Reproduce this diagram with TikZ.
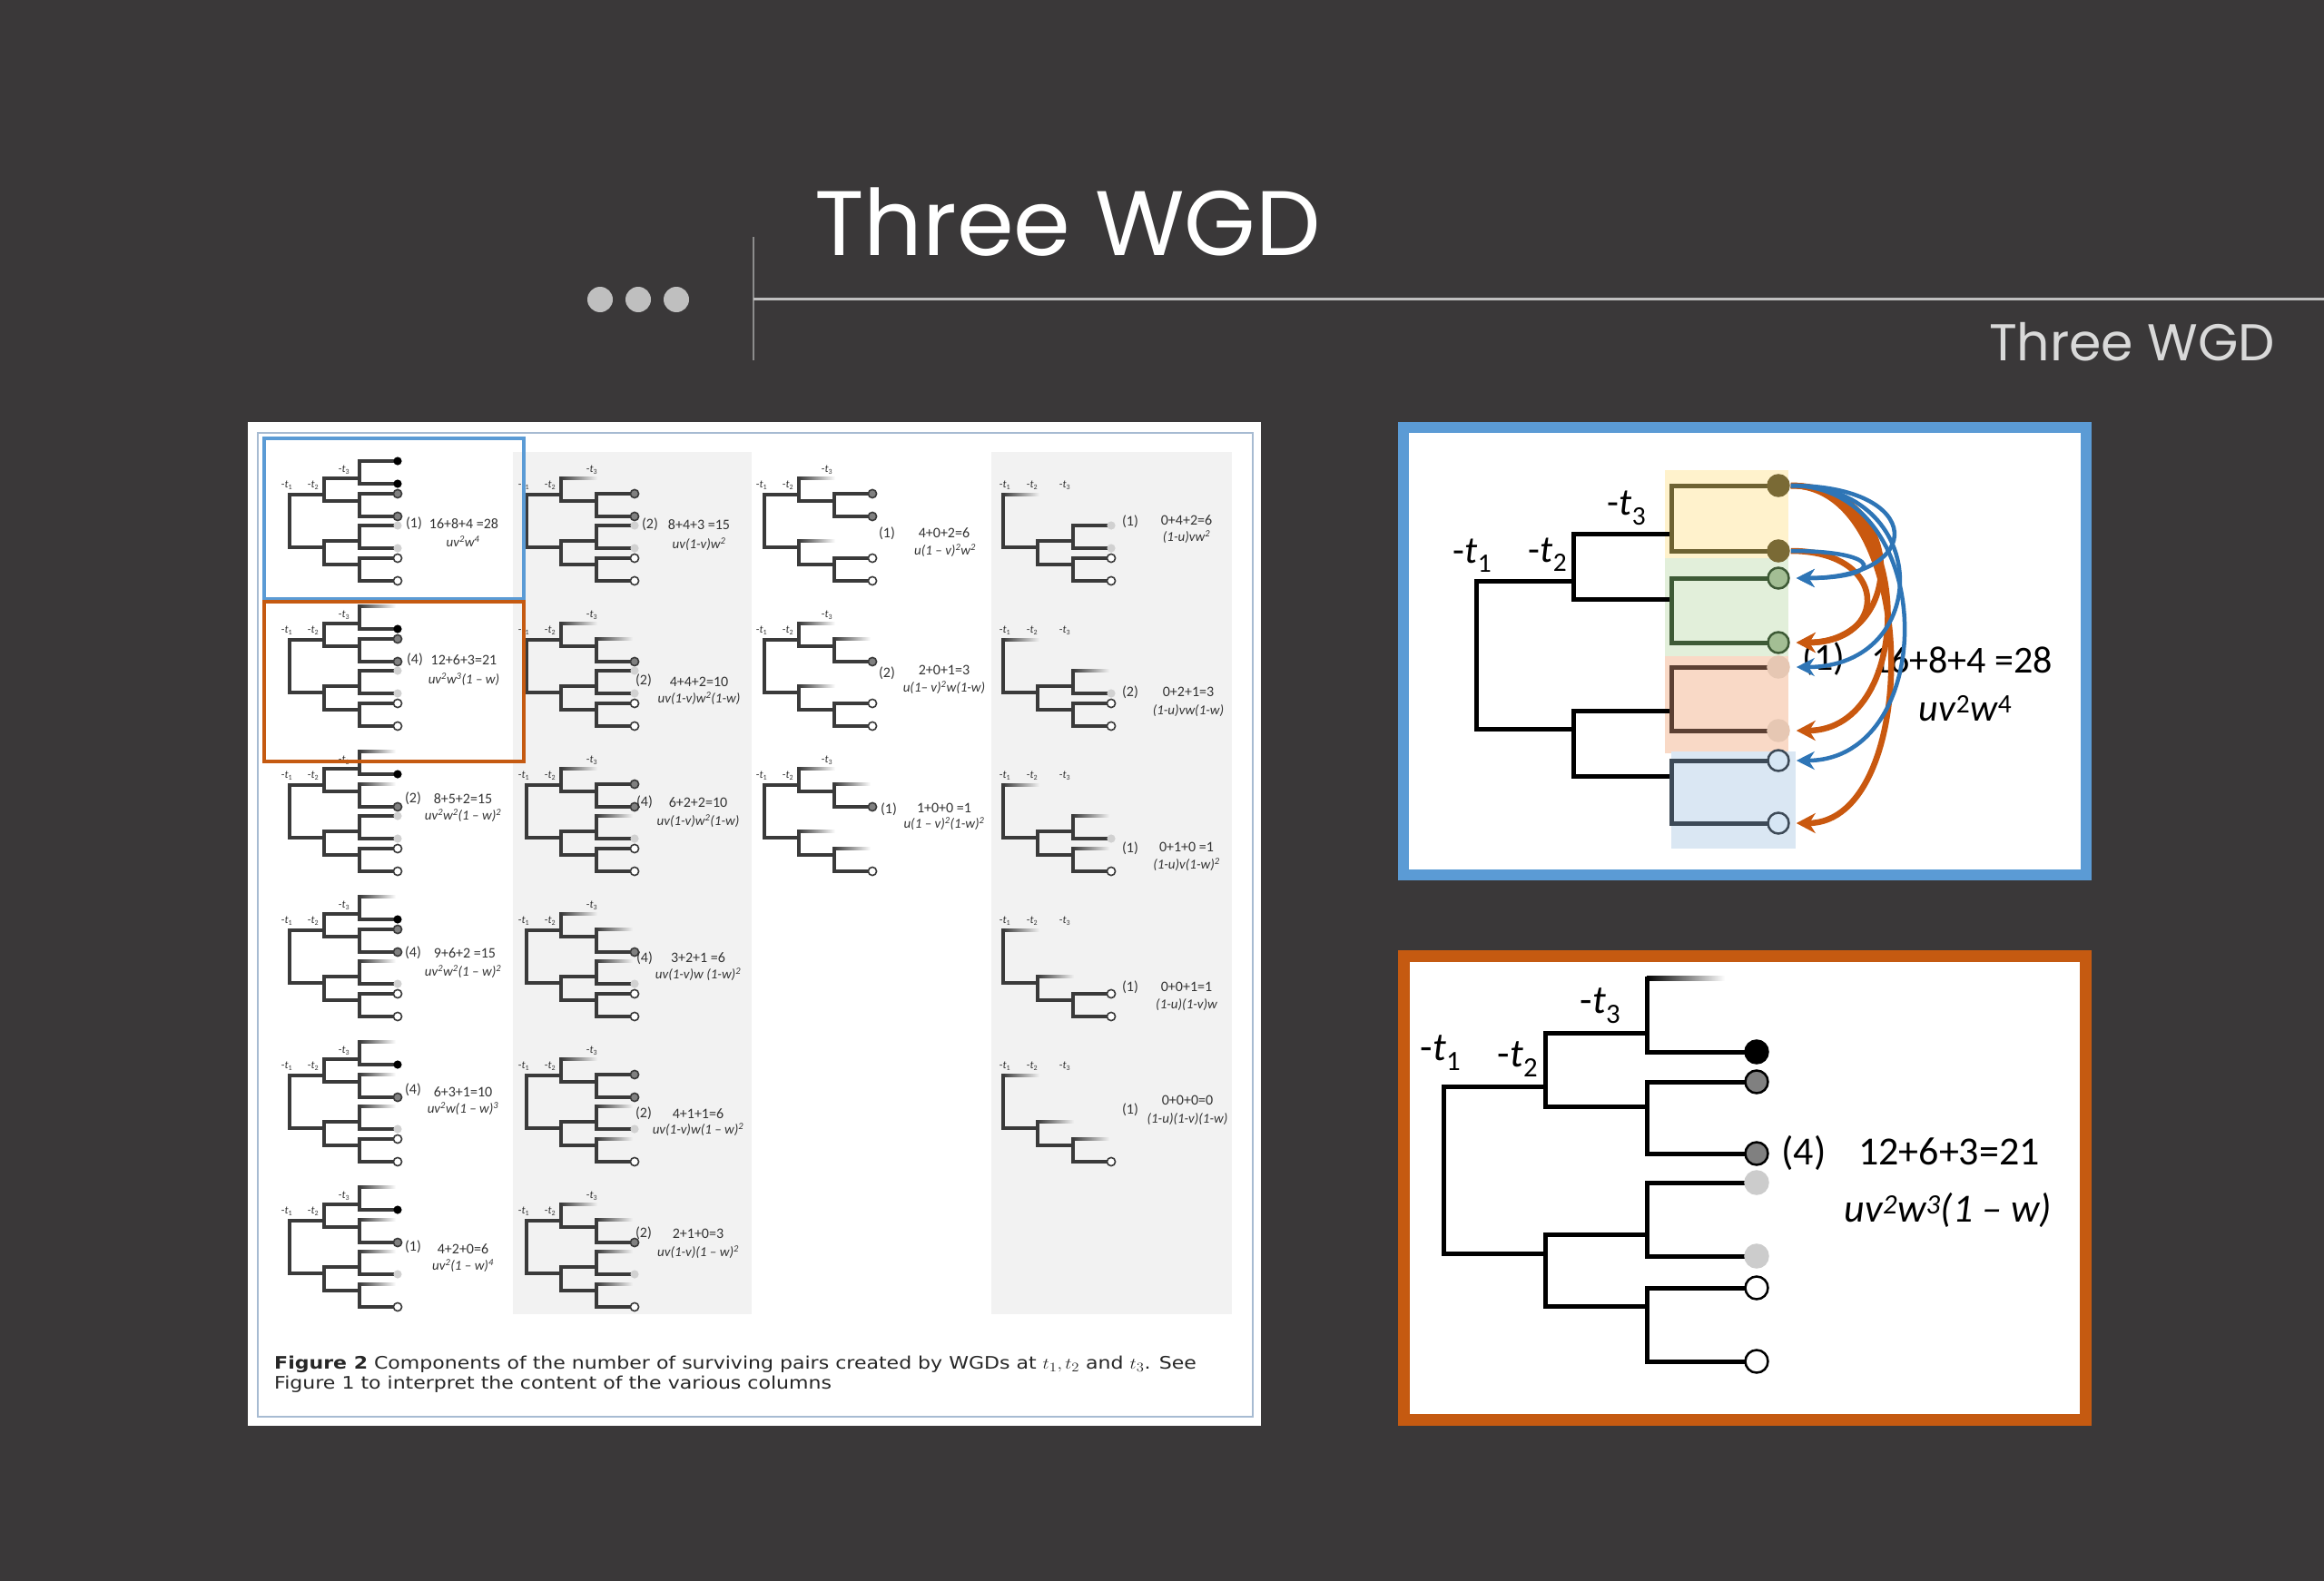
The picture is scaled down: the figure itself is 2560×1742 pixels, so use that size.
\documentclass[tikz,border=0pt]{standalone}
\usepackage{fontspec}
\setmainfont{Carlito}
\newfontfamily\titlefont{Poppins}
\newfontfamily\capfont{DejaVu Sans}
\usetikzlibrary{arrows.meta}
\definecolor{bgdark}{HTML}{3A3839}
\definecolor{dotgrey}{HTML}{BFBFBF}
\definecolor{vlinec}{HTML}{8C8C8C}
\definecolor{hlinec}{HTML}{BFBFBF}
\definecolor{subgrey}{HTML}{D9D9D9}
\definecolor{panelgrey}{HTML}{F2F2F2}
\definecolor{frameblue}{HTML}{A7BBD2}
\definecolor{hiblue}{HTML}{5B9BD5}
\definecolor{hiorange}{HTML}{C55A11}
\definecolor{tline}{HTML}{3A3A3A}
\definecolor{tgrey}{HTML}{333333}
\definecolor{arrorange}{HTML}{C9580F}
\definecolor{arrblue}{HTML}{2E75B6}
\definecolor{cyel}{HTML}{FFF2CC}
\definecolor{cgrn}{HTML}{E2EFDA}
\definecolor{cpch}{HTML}{F9D9C6}
\definecolor{cblu}{HTML}{DAE7F3}
\definecolor{lyel}{HTML}{6E6232}
\definecolor{lgrn}{HTML}{3E5A36}
\definecolor{lpch}{HTML}{5C4033}
\definecolor{lblu}{HTML}{3D4A57}
\definecolor{fyel}{HTML}{7A6A35}
\definecolor{fgrn}{HTML}{A3BE94}
\definecolor{fpch}{HTML}{E6C7B3}
\definecolor{fblu}{HTML}{D6E6F4}
\def\TBG{white}
\def\codeF{F}
\def\codeX{X}
\newif\ifupperpart
\newcommand\tfade[3]{\shade[left color=tline,right color=\TBG] (#1,#2-1.6) rectangle (#1+#3,#2+1.6);}
\newcommand\tleaf[2]{\def\lcode{#2}\ifx\lcode\codeF\tfade{77}{#1}{40}\else\draw[thinbr] (77,#1) -- (115,#1);\path[leaf#2] (119,#1) circle[radius=4.6pt];\fi}
\newcommand\tsub[4]{\def\scode{#3}\ifx\scode\codeX\tfade{38}{#1}{40}\else\draw[thinbr] (38,#1) -- (77,#1) (77,#2) -- (77,#2+25);\tleaf{#2}{#3}\tleaf{#2+25}{#4}\fi}
\newcommand\ttree[8]{%
 \upperparttrue
 \def\ucodeA{#1}\def\ucodeC{#3}%
 \ifx\ucodeA\codeX\ifx\ucodeC\codeX\upperpartfalse\fi\fi
 \ifupperpart
   \draw[thinbr] (0,37) -- (38,37) (38,19) -- (38,44);
   \tsub{19}{0}{#1}{#2}\tsub{44}{36}{#3}{#4}%
 \else
   \tfade{0}{37}{40}%
 \fi
 \draw[thinbr] (0,37) -- (0,95) -- (38,95) (38,88) -- (38,114);
 \tsub{88}{71}{#5}{#6}\tsub{114}{107}{#7}{#8}%
}
\newcommand\tlabA[2]{%
 \node[tsty] (#1-a) at (-3,27) {-\textit{t}\textsubscript{1}};
 \node[tsty] (#1-b) at (26,27) {-\textit{t}\textsubscript{2}};
 \node[tsty] (#1-c) at (#2,10) {-\textit{t}\textsubscript{3}};}
\newcommand\tlabB[1]{%
 \node[tsty] (#1-a) at (2,27) {-\textit{t}\textsubscript{1}};
 \node[tsty] (#1-b) at (32,27) {-\textit{t}\textsubscript{2}};
 \node[tsty] (#1-c) at (68,27) {-\textit{t}\textsubscript{3}};}
\newcommand\tlab[7]{%
 \node[tsmall] (#1n) at (#2) {(#3)};
 \node[tsmall] (#1f) at (#4) {#5};
 \node[tsmall,font=\fontsize{15}{18}\selectfont\itshape] (#1g) at (#6) {#7};}
\newcommand\tit{\textit{t}}
\begin{document}
\begin{tikzpicture}[x=1pt,y=-1pt,
  thinbr/.style={draw=tline,line width=3.1pt,line cap=rect},
  leafB/.style={fill=black},
  leafG/.style={fill=black!50,draw=tline,line width=1.6pt},
  leafL/.style={fill=black!18},
  leafW/.style={fill=white,draw=tline,line width=1.6pt},
  tsty/.style={font=\fontsize{12}{14}\selectfont,text=tgrey,inner sep=0pt},
  tsmall/.style={font=\fontsize{16}{19}\selectfont,text=tgrey,inner sep=0pt},
  bigbr/.style={line width=5pt,line cap=rect},
  bleaf/.style={circle,minimum size=23pt,inner sep=0pt,line width=2.5pt},
  bigtxt/.style={font=\fontsize{42}{50}\selectfont,inner sep=0pt},
  oarr/.style={draw=arrorange,line width=6.5pt,-{Stealth[length=21pt,width=22pt]},shorten >=7pt,shorten <=1pt},
  barr/.style={draw=arrblue,line width=4.5pt,-{Stealth[length=20pt,width=20pt]},shorten >=7pt,shorten <=1pt}]
\useasboundingbox (0,0) rectangle (2560,1742);
\fill[bgdark] (0,0) rectangle (2560,1742);
% header
\fill[dotgrey] (661,330) circle[radius=14pt] (703,330) circle[radius=14pt] (745,330) circle[radius=14pt];
\draw[vlinec,line width=2pt] (830,261) -- (830,397);
\draw[hlinec,line width=3pt] (830,329) -- (2560,329);
\node[anchor=base west,text=white,font=\titlefont\fontsize{101}{106}\selectfont,inner sep=0pt] (title) at (897,281) {Three WGD};
\node[anchor=base east,text=subgrey,font=\titlefont\fontsize{57}{63}\selectfont,inner sep=0pt] (subtitle) at (2506,397) {Three WGD};
% left panel
\fill[white] (273,465) rectangle (1389,1571);
\draw[frameblue,line width=2.5pt] (284,477) rectangle (1380,1561);
\fill[panelgrey] (565,498) rectangle (828,1448);
\fill[panelgrey] (1092,498) rectangle (1357,1448);
% column 1
\def\TBG{white}
\begin{scope}[shift={(319,508)}]\ttree{B}{B}{G}{G}{L}{L}{W}{W}\tlabA{c11}{60}\end{scope}
\begin{scope}[shift={(319,668)}]\ttree{F}{B}{G}{G}{L}{L}{W}{W}\tlabA{c12}{60}\end{scope}
\begin{scope}[shift={(319,828)}]\ttree{F}{B}{F}{G}{L}{L}{W}{W}\tlabA{c13}{60}\end{scope}
\begin{scope}[shift={(319,988)}]\ttree{F}{B}{G}{G}{F}{L}{W}{W}\tlabA{c14}{60}\end{scope}
\begin{scope}[shift={(319,1148)}]\ttree{F}{B}{F}{G}{F}{L}{W}{W}\tlabA{c15}{60}\end{scope}
\begin{scope}[shift={(319,1308)}]\ttree{F}{B}{F}{G}{F}{L}{F}{W}\tlabA{c16}{60}\end{scope}
% column 2
\def\TBG{panelgrey}
\begin{scope}[shift={(580,508)}]\ttree{X}{X}{G}{G}{L}{L}{W}{W}\tlabA{c21}{72}\end{scope}
\begin{scope}[shift={(580,668)}]\ttree{X}{X}{F}{G}{L}{L}{W}{W}\tlabA{c22}{72}\end{scope}
\begin{scope}[shift={(580,828)}]\ttree{X}{X}{G}{G}{F}{L}{W}{W}\tlabA{c23}{72}\end{scope}
\begin{scope}[shift={(580,988)}]\ttree{X}{X}{F}{G}{F}{L}{W}{W}\tlabA{c24}{72}\end{scope}
\begin{scope}[shift={(580,1148)}]\ttree{X}{X}{G}{G}{F}{L}{F}{W}\tlabA{c25}{72}\end{scope}
\begin{scope}[shift={(580,1308)}]\ttree{X}{X}{F}{G}{F}{L}{F}{W}\tlabA{c26}{72}\end{scope}
% column 3
\def\TBG{white}
\begin{scope}[shift={(842,508)}]\ttree{X}{X}{G}{G}{X}{X}{W}{W}\tlabA{c31}{69}\end{scope}
\begin{scope}[shift={(842,668)}]\ttree{X}{X}{F}{G}{X}{X}{W}{W}\tlabA{c32}{69}\end{scope}
\begin{scope}[shift={(842,828)}]\ttree{X}{X}{F}{G}{X}{X}{F}{W}\tlabA{c33}{69}\end{scope}
% column 4
\def\TBG{panelgrey}
\begin{scope}[shift={(1105,508)}]\ttree{X}{X}{X}{X}{L}{L}{W}{W}\tlabB{c41}\end{scope}
\begin{scope}[shift={(1105,668)}]\ttree{X}{X}{X}{X}{F}{L}{W}{W}\tlabB{c42}\end{scope}
\begin{scope}[shift={(1105,828)}]\ttree{X}{X}{X}{X}{F}{L}{F}{W}\tlabB{c43}\end{scope}
\begin{scope}[shift={(1105,988)}]\ttree{X}{X}{X}{X}{X}{X}{W}{W}\tlabB{c44}\end{scope}
\begin{scope}[shift={(1105,1148)}]\ttree{X}{X}{X}{X}{X}{X}{F}{W}\tlabB{c45}\end{scope}
% thumbnail labels
\tlab{l11}{456,577}{1}{511,577}{16+8+4 =28}{510,597}{uv\textsuperscript{2}w\textsuperscript{4}}
\tlab{l12}{457,727}{4}{511,727}{12+6+3=21}{511,749}{uv\textsuperscript{2}w\textsuperscript{3}(1 – w)}
\tlab{l13}{455,880}{2}{510,880}{8+5+2=15}{510,899}{uv\textsuperscript{2}w\textsuperscript{2}(1 – w)\textsuperscript{2}}
\tlab{l14}{455,1050}{4}{512,1050}{9+6+2 =15}{510,1071}{uv\textsuperscript{2}w\textsuperscript{2}(1 – w)\textsuperscript{2}}
\tlab{l15}{455,1201}{4}{510,1203}{6+3+1=10}{510,1222}{uv\textsuperscript{2}w(1 – w)\textsuperscript{3}}
\tlab{l16}{455,1374}{1}{510,1376}{4+2+0=6}{510,1395}{uv\textsuperscript{2}(1 – w)\textsuperscript{4}}
\tlab{l21}{716,578}{2}{770,578}{8+4+3 =15}{770,600}{uv(1-v)w\textsuperscript{2}}
\tlab{l22}{709,750}{2}{770,751}{4+4+2=10}{770,770}{uv(1-v)w\textsuperscript{2}(1-w)}
\tlab{l23}{710,884}{4}{769,884}{6+2+2=10}{769,905}{uv(1-v)w\textsuperscript{2}(1-w)}
\tlab{l24}{710,1056}{4}{769,1055}{3+2+1 =6}{769,1074}{uv(1-v)w (1-w)\textsuperscript{2}}
\tlab{l25}{709,1227}{2}{769,1227}{4+1+1=6}{769,1245}{uv(1-v)w(1 – w)\textsuperscript{2}}
\tlab{l26}{709,1359}{2}{769,1359}{2+1+0=3}{769,1380}{uv(1-v)(1 – w)\textsuperscript{2}}
\tlab{l31}{977,588}{1}{1040,587}{4+0+2=6}{1041,607}{u(1 – v)\textsuperscript{2}w\textsuperscript{2}}
\tlab{l32}{977,742}{2}{1040,738}{2+0+1=3}{1040,758}{u(1– v)\textsuperscript{2}w(1-w)}
\tlab{l33}{979,892}{1}{1040,890}{1+0+0 =1}{1040,908}{u(1 – v)\textsuperscript{2}(1-w)\textsuperscript{2}}
\tlab{l41}{1245,575}{1}{1307,573}{0+4+2=6}{1307,592}{(1-u)vw\textsuperscript{2}}
\tlab{l42}{1245,763}{2}{1309,762}{0+2+1=3}{1309,783}{(1-u)vw(1-w)}
\tlab{l43}{1245,935}{1}{1307,933}{0+1+0 =1}{1307,953}{(1-u)v(1-w)\textsuperscript{2}}
\tlab{l44}{1245,1088}{1}{1307,1087}{0+0+1=1}{1307,1107}{(1-u)(1-v)w}
\tlab{l45}{1245,1223}{1}{1308,1212}{0+0+0=0}{1308,1233}{(1-u)(1-v)(1-w)}
% highlight boxes
\draw[hiblue,line width=4pt] (291,483) rectangle (577,660);
\draw[hiorange,line width=4pt] (291,663) rectangle (577,839);
% caption
\begin{scope}
\clip (273,1470) rectangle (1389,1534);
\node[anchor=base west,font=\capfont\fontsize{19}{19}\selectfont,text=black!85,inner sep=0pt] (cap1) at (302,1508) {\scalebox{1.16}[1]{\textbf{Figure 2} Components of the number of surviving pairs created by WGDs at $t_1,t_2$ and $t_3$. See}};
\node[anchor=base west,font=\capfont\fontsize{19}{19}\selectfont,text=black!85,inner sep=0pt] (cap2) at (302,1530) {\scalebox{1.16}[1]{Figure 1 to interpret the content of the various columns}};
\end{scope}
% blue panel
\draw[hiblue,line width=12pt,fill=white] (1546,471) rectangle (2298,964);
\fill[cyel] (1834,518) rectangle (1970,615);
\fill[cgrn] (1834,615) rectangle (1970,723);
\fill[cpch] (1834,723) rectangle (1970,830);
\fill[cblu] (1841,828) rectangle (1978,935);
\draw[bigbr] (1733,640) -- (1626,640) -- (1626,803) -- (1733,803);
\draw[bigbr] (1841,588) -- (1733,588) -- (1733,660) -- (1841,660);
\draw[bigbr] (1841,783) -- (1733,783) -- (1733,855) -- (1841,855);
\draw[bigbr,draw=lyel] (1948,535) -- (1841,535) -- (1841,607) -- (1948,607);
\draw[bigbr,draw=lgrn] (1948,637) -- (1841,637) -- (1841,708) -- (1948,708);
\draw[bigbr,draw=lpch] (1948,735) -- (1841,735) -- (1841,805) -- (1948,805);
\draw[bigbr,draw=lblu] (1948,838) -- (1841,838) -- (1841,907) -- (1948,907);
\node[bleaf,fill=fyel,draw=fyel] (ya) at (1959,535) {};
\node[bleaf,fill=fyel,draw=fyel] (yb) at (1959,607) {};
\node[bleaf,fill=fgrn,draw=lgrn] (ga) at (1959,637) {};
\node[bleaf,fill=fgrn,draw=lgrn] (gb) at (1959,708) {};
\node[bleaf,fill=fpch,draw=fpch] (pa) at (1959,735) {};
\node[bleaf,fill=fpch,draw=fpch] (pb) at (1959,805) {};
\node[bleaf,fill=fblu,draw=lblu] (ba) at (1959,838) {};
\node[bleaf,fill=fblu,draw=lblu] (bb) at (1959,907) {};
\node[bigtxt] (bt1) at (1622,612) {-\tit\textsubscript{1}};
\node[bigtxt] (bt2) at (1705,611) {-\tit\textsubscript{2}};
\node[bigtxt] (bt3) at (1792,560) {-\tit\textsubscript{3}};
\node[bigtxt] (bn) at (2009,726) {(1)};
\node[bigtxt] (bf1) at (2161,727) {16+8+4 =28};
\node[bigtxt] (bf2) at (2165,781) {\textit{uv}\textsuperscript{2}\textit{w}\textsuperscript{4}};
\draw[oarr] (ya.east) .. controls +(130,0) and +(130,0) .. (gb.east);
\draw[oarr] (ya.east) .. controls +(140,0) and +(140,0) .. (pb.east);
\draw[oarr] (ya.east) .. controls +(145,0) and +(145,0) .. (bb.east);
\draw[oarr] (yb.east) .. controls +(110,0) and +(110,0) .. (gb.east);
\draw[barr] (ya.east) .. controls +(150,0) and +(150,0) .. (ga.east);
\draw[barr] (ya.east) .. controls +(158,0) and +(158,0) .. (pa.east);
\draw[barr] (ya.east) .. controls +(165,0) and +(165,0) .. (ba.east);
\draw[barr] (yb.east) .. controls +(105,0) and +(105,0) .. (ga.east);
% orange panel
\draw[hiorange,line width=13pt,fill=white] (1546.5,1053.5) rectangle (2297.5,1564.5);
\draw[bigbr] (1702,1197) -- (1590,1197) -- (1590,1381) -- (1702,1381);
\draw[bigbr] (1814,1138) -- (1702,1138) -- (1702,1219) -- (1814,1219);
\draw[bigbr] (1814,1360) -- (1702,1360) -- (1702,1439) -- (1814,1439);
\shade[left color=black,right color=white] (1814,1075.5) rectangle (1900,1080.5);
\draw[bigbr] (1814,1078) -- (1814,1159) -- (1923,1159);
\draw[bigbr] (1923,1192) -- (1814,1192) -- (1814,1271) -- (1923,1271);
\draw[bigbr] (1923,1303) -- (1814,1303) -- (1814,1384) -- (1923,1384);
\draw[bigbr] (1923,1419) -- (1814,1419) -- (1814,1500) -- (1923,1500);
\node[bleaf,minimum size=25pt,fill=black,draw=black] (oa) at (1935,1159) {};
\node[bleaf,minimum size=25pt,fill=black!50,draw=black] (ob) at (1935,1192) {};
\node[bleaf,minimum size=25pt,fill=black!50,draw=black] (oc) at (1935,1271) {};
\node[bleaf,minimum size=25pt,fill=black!20,draw=black!20] (od) at (1935,1303) {};
\node[bleaf,minimum size=25pt,fill=black!20,draw=black!20] (oe) at (1935,1384) {};
\node[bleaf,minimum size=25pt,fill=white,draw=black] (of) at (1935,1419) {};
\node[bleaf,minimum size=25pt,fill=white,draw=black] (og) at (1935,1500) {};
\node[bigtxt,font=\fontsize{44}{52}\selectfont] (ot1) at (1587,1160) {-\tit\textsubscript{1}};
\node[bigtxt,font=\fontsize{44}{52}\selectfont] (ot2) at (1672,1167) {-\tit\textsubscript{2}};
\node[bigtxt,font=\fontsize{44}{52}\selectfont] (ot3) at (1763,1108) {-\tit\textsubscript{3}};
\node[bigtxt,font=\fontsize{44}{52}\selectfont] (on) at (1987,1270) {(4)};
\node[bigtxt,font=\fontsize{44}{52}\selectfont] (of1) at (2147,1269) {12+6+3=21};
\node[bigtxt,font=\fontsize{44}{52}\selectfont\itshape] (of2) at (2146,1333) {uv\textsuperscript{2}w\textsuperscript{3}(1 – w)};
\end{tikzpicture}
\end{document}
